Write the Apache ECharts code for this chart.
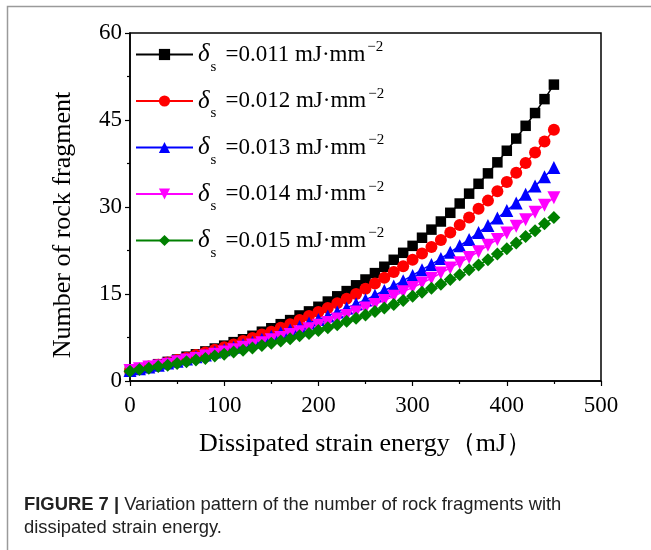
<!DOCTYPE html>
<html>
<head>
<meta charset="utf-8">
<script src="https://cdn.jsdelivr.net/npm/echarts@6/dist/echarts.min.js"></script>
<style>
  html, body { margin: 0; padding: 0; background: #fff; }
  #chart { width: 651px; height: 550px; }
</style>
</head>
<body>
<div id="chart"></div>
<script>
// dissipated strain energy (mJ)
const energy = [0, 10, 20, 30, 40, 50, 60, 70, 80, 90, 100, 110, 120, 130, 140, 150, 160, 170, 180, 190,
  200, 210, 220, 230, 240, 250, 260, 270, 280, 290, 300, 310, 320, 330, 340, 350, 360, 370, 380, 390,
  400, 410, 420, 430, 440, 450];

const deltas = ['0.011', '0.012', '0.013', '0.014', '0.015'];

const frag011 = [1.8, 2.2, 2.5, 2.9, 3.3, 3.7, 4.2, 4.6, 5.1, 5.6, 6.1, 6.7, 7.2, 7.8, 8.5, 9.1, 9.8, 10.5, 11.3, 12.0,
  12.8, 13.7, 14.6, 15.5, 16.5, 17.5, 18.6, 19.7, 20.9, 22.1, 23.3, 24.7, 26.1, 27.5, 29.0, 30.6, 32.3, 34.0, 35.8, 37.7,
  39.7, 41.8, 44.0, 46.2, 48.6, 51.1];
const frag012 = [1.8, 2.1, 2.5, 2.8, 3.2, 3.6, 4.0, 4.5, 4.9, 5.4, 5.8, 6.3, 6.9, 7.4, 8.0, 8.5, 9.2, 9.8, 10.5, 11.2,
  11.9, 12.6, 13.4, 14.2, 15.0, 15.9, 16.8, 17.8, 18.8, 19.8, 20.9, 22.0, 23.1, 24.3, 25.6, 26.9, 28.2, 29.7, 31.1, 32.7,
  34.3, 35.9, 37.6, 39.4, 41.3, 43.3];
const frag013 = [1.8, 2.1, 2.4, 2.7, 3.1, 3.4, 3.8, 4.2, 4.5, 5.0, 5.4, 5.8, 6.3, 6.7, 7.2, 7.7, 8.3, 8.8, 9.4, 10.0,
  10.6, 11.2, 11.9, 12.6, 13.3, 14.0, 14.8, 15.6, 16.4, 17.3, 18.2, 19.2, 20.1, 21.1, 22.2, 23.3, 24.4, 25.6, 26.8, 28.1,
  29.4, 30.7, 32.2, 33.6, 35.2, 36.8];
const frag014 = [1.8, 2.1, 2.4, 2.6, 2.9, 3.3, 3.6, 3.9, 4.3, 4.6, 5.0, 5.4, 5.8, 6.2, 6.6, 7.1, 7.5, 8.0, 8.5, 9.0,
  9.6, 10.1, 10.7, 11.3, 11.9, 12.6, 13.2, 13.9, 14.6, 15.4, 16.1, 16.9, 17.7, 18.6, 19.5, 20.4, 21.3, 22.3, 23.4, 24.4,
  25.5, 26.7, 27.8, 29.1, 30.3, 31.6];
const frag015 = [1.7, 2.0, 2.2, 2.5, 2.7, 3.0, 3.3, 3.6, 3.9, 4.3, 4.6, 5.0, 5.3, 5.7, 6.1, 6.5, 6.9, 7.3, 7.8, 8.2,
  8.7, 9.2, 9.7, 10.3, 10.8, 11.4, 12.0, 12.6, 13.2, 13.9, 14.6, 15.3, 16.0, 16.7, 17.5, 18.3, 19.2, 20.0, 20.9, 21.9,
  22.8, 23.8, 24.9, 25.9, 27.1, 28.2];

const xTicks = [0, 100, 200, 300, 400, 500];
const yTicks = [0, 15, 30, 45, 60];

const allValues = [frag011, frag012, frag013, frag014, frag015];
const colors = ['#000000', '#ff0000', '#0000ff', '#ff00ff', '#008000'];
const symbols = ['rect', 'circle', 'triangle', 'triangle', 'diamond'];
const symbolSizes = [10.5, 12, 13, 13, 13];
const rotates = [0, 0, 0, 180, 0];

const serif = 'Liberation Serif';
const names = deltas.map(d => 'δs=' + d + ' mJ·mm−2');

const chart = echarts.init(document.getElementById('chart'));

const series = allValues.map((vals, i) => ({
  name: names[i],
  type: 'line',
  data: vals.map((v, j) => [energy[j], v]),
  symbol: symbols[i],
  symbolSize: symbolSizes[i],
  symbolRotate: rotates[i],
  showAllSymbol: true,
  color: colors[i],
  lineStyle: { color: colors[i], width: 1.5 },
  itemStyle: { color: colors[i] },
  emphasis: { disabled: true }
}));

const option = {
  animation: false,
  backgroundColor: '#fff',
  grid: {
    left: 130, right: 50, top: 33, bottom: 169,
    show: true, borderColor: '#000', borderWidth: 1.5
  },
  xAxis: {
    type: 'value',
    min: xTicks[0], max: xTicks[xTicks.length - 1], interval: 100,
    name: 'Dissipated strain energy（mJ）',
    nameLocation: 'middle', nameGap: 50,
    nameTextStyle: { fontFamily: serif, fontSize: 26, color: '#000' },
    axisLine: { lineStyle: { color: '#000', width: 1.5 } },
    axisTick: { show: true, length: 5, lineStyle: { color: '#000', width: 1.2 } },
    minorTick: { show: true, splitNumber: 2, length: 3, lineStyle: { color: '#000', width: 1.2 } },
    splitLine: { show: false },
    axisLabel: { fontFamily: serif, fontSize: 23, color: '#000', margin: 13 }
  },
  yAxis: {
    type: 'value',
    min: yTicks[0], max: yTicks[yTicks.length - 1], interval: 15,
    name: 'Number of rock fragment',
    nameLocation: 'middle', nameGap: 54, nameRotate: 90,
    nameTextStyle: { fontFamily: serif, fontSize: 26, color: '#000', padding: [0, 36, 0, 0] },
    axisLine: { lineStyle: { color: '#000', width: 1.5 } },
    axisTick: { show: true, length: 5, lineStyle: { color: '#000', width: 1.2 } },
    minorTick: { show: true, splitNumber: 2, length: 3, lineStyle: { color: '#000', width: 1.2 } },
    splitLine: { show: false },
    axisLabel: { fontFamily: serif, fontSize: 23, color: '#000', margin: 8 }
  },
  legend: {
    orient: 'vertical',
    left: 135, top: 40, padding: 0,
    itemWidth: 57, itemHeight: 14, itemGap: 12,
    selectedMode: false,
    data: names,
    formatter: function (name) {
      const d = deltas[names.indexOf(name)];
      return '{d|δ}{s|s}{t|=' + d + ' mJ·mm}{p|−2}';
    },
    textStyle: {
      fontFamily: serif, fontSize: 23, color: '#000',
      rich: {
        d: { fontFamily: serif, fontSize: 25, fontStyle: 'italic', lineHeight: 40 },
        s: { fontFamily: serif, fontSize: 15, lineHeight: 14, verticalAlign: 'bottom', padding: [0, 9, 0, 1] },
        t: { fontFamily: serif, fontSize: 23, lineHeight: 40 },
        p: { fontFamily: serif, fontSize: 15, padding: [0, 0, 14, 2] }
      }
    }
  },
  graphic: [
    {
      type: 'rect',
      shape: { x: 7.5, y: 6.5, width: 700, height: 600 },
      style: { fill: 'none', stroke: '#9a9a9a', lineWidth: 1.5 },
      silent: true
    },
    {
      type: 'text',
      left: 24, top: 496,
      style: {
        text: '{b|FIGURE 7 | }{r|Variation pattern of the number of rock fragments with}',
        rich: {
          b: { fontFamily: 'Liberation Sans', fontSize: 18.4, fontWeight: 'bold', fill: '#222' },
          r: { fontFamily: 'Liberation Sans', fontSize: 18.4, fill: '#222' }
        }
      }
    },
    {
      type: 'text',
      left: 24, top: 519,
      style: {
        text: 'dissipated strain energy.',
        fontFamily: 'Liberation Sans', fontSize: 18.4, fill: '#222'
      }
    }
  ],
  series: series
};

chart.setOption(option);
</script>
</body>
</html>
